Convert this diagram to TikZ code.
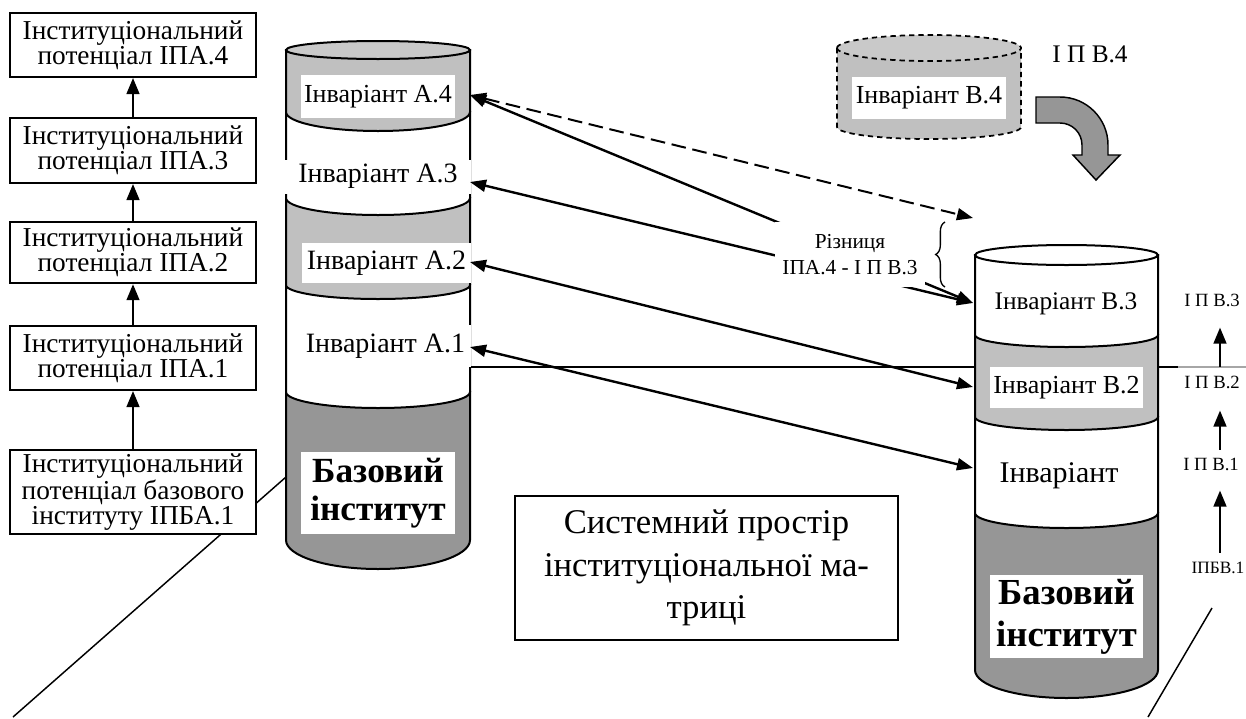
\documentclass[tikz,border=0pt]{standalone}
\usepackage{fontspec}
\setmainfont{Liberation Serif}
\usetikzlibrary{arrows.meta}
\usetikzlibrary{decorations.pathreplacing}
\definecolor{lgray}{RGB}{192,192,192}
\definecolor{dgray}{RGB}{150,150,150}

\begin{document}
\begin{tikzpicture}[x=0.75pt,y=0.75pt,yscale=-1,xscale=1,
  potbox/.style={draw,line width=1.5pt,fill=white,minimum width=185pt,inner sep=0pt,align=center,font=\fontsize{20.5}{17.5}\selectfont},
  invlbl/.style={fill=white,inner sep=0pt,font=\fontsize{21}{24}\selectfont},
  baselbl/.style={fill=white,inner sep=0pt,align=center},
  iplbl/.style={inner sep=0pt,anchor=base,font=\fontsize{14}{16}\selectfont},
  uparr/.style={line width=1.7pt,-{Triangle[length=12pt,width=9.5pt]}},
  dblarr/.style={line width=1.8pt,{Triangle[length=12pt,width=9pt]}-{Triangle[length=12pt,width=9pt]}},
  can/.style={line width=1.5pt}
]
\useasboundingbox (0,0) rectangle (1246,718);

%Straight Lines (left diagonal)
\draw [line width=1.1pt]  (286,477) -- (13,717) ;

%Left column: potentials
\node [potbox,minimum height=48pt] (ipa4) at (133,45) {Інституціональний\\потенціал ІПА.4};
\node [potbox,minimum height=48.75pt] (ipa3) at (133,150.5) {Інституціональний\\потенціал ІПА.3};
\node [potbox,minimum height=46pt] (ipa2) at (133,252.5) {Інституціональний\\потенціал ІПА.2};
\node [potbox,minimum height=48pt] (ipa1) at (133,358) {Інституціональний\\потенціал ІПА.1};
\node [potbox,minimum height=63pt] (ipba1) at (133,492) {Інституціональний\\потенціал базового\\інституту ІПБА.1};
\draw [uparr] (ipba1) -- (ipa1) ;
\draw [uparr] (ipa1) -- (ipa2) ;
\draw [uparr] (ipa2) -- (ipa3) ;
\draw [uparr] (ipa3) -- (ipa4) ;

%Straight Lines (horizontal)
\draw [line width=1pt]  (470,367) -- (1178,367) ;
\draw [line width=1pt,color=gray!70]  (1178,367) -- (1246,367) ;

%Shape: Can A (base)
\draw [can,fill=dgray] (286,392) -- (286,540) .. controls (286,556) and (327.2,569) .. (378,569) .. controls (428.8,569) and (470,556) .. (470,540) -- (470,392) -- cycle ;
%Shape: Can A.1
\draw [can,fill=white] (286,285) -- (286,392) .. controls (286,400.8) and (327.2,408) .. (378,408) .. controls (428.8,408) and (470,400.8) .. (470,392) -- (470,285) -- cycle ;
%Shape: Can A.2
\draw [can,fill=lgray] (286,198) -- (286,285) .. controls (286,292.7) and (327.2,299) .. (378,299) .. controls (428.8,299) and (470,292.7) .. (470,285) -- (470,198) -- cycle ;
%Shape: Can A.3
\draw [can,fill=white] (286,112) -- (286,198) .. controls (286,207.4) and (327.2,215) .. (378,215) .. controls (428.8,215) and (470,207.4) .. (470,198) -- (470,112) -- cycle ;
%Shape: Can A.4
\draw [can,fill=lgray] (286,50) -- (286,112) .. controls (286,122.5) and (327.2,131) .. (378,131) .. controls (428.8,131) and (470,122.5) .. (470,112) -- (470,50) -- cycle ;
\draw [can,fill=lgray!85] (286,50) .. controls (286,45) and (327.2,41) .. (378,41) .. controls (428.8,41) and (470,45) .. (470,50) .. controls (470,55) and (428.8,59) .. (378,59) .. controls (327.2,59) and (286,55) .. (286,50) -- cycle ;

\node [invlbl,font=\fontsize{19.5}{22}\selectfont,minimum width=115.5pt,minimum height=32pt] (a4lbl) at (378,96.5) {Інваріант А.4};
\node [invlbl,minimum width=139.5pt,minimum height=25.5pt] (a3lbl) at (378,176.5) {Інваріант А.3};
\node [invlbl,minimum width=126.75pt,minimum height=30pt] (a2lbl) at (386.5,263) {Інваріант А.2};
\node [invlbl,minimum width=128pt,minimum height=31.5pt] (a1lbl) at (385.5,346) {Інваріант А.1};
\node [baselbl,font=\bfseries\fontsize{26.5}{29}\selectfont,minimum width=115.5pt,minimum height=61.5pt] (abase) at (378,493) {Базовий\\інститут};

%Shape: Can B (base)
\draw [can,fill=dgray] (975,513) -- (975,670) .. controls (975,685.5) and (1016,698) .. (1066.5,698) .. controls (1117,698) and (1158,685.5) .. (1158,670) -- (1158,513) -- cycle ;
%Shape: Can B.1
\draw [can,fill=white] (975,417) -- (975,513) .. controls (975,521.3) and (1016,528) .. (1066.5,528) .. controls (1117,528) and (1158,521.3) .. (1158,513) -- (1158,417) -- cycle ;
%Shape: Can B.2
\draw [can,fill=lgray] (975,335) -- (975,417) .. controls (975,424.2) and (1016,430) .. (1066.5,430) .. controls (1117,430) and (1158,424.2) .. (1158,417) -- (1158,335) -- cycle ;
%Shape: Can B.3
\draw [can,fill=white] (975,255) -- (975,335) .. controls (975,341.6) and (1016,347) .. (1066.5,347) .. controls (1117,347) and (1158,341.6) .. (1158,335) -- (1158,255) -- cycle ;
\draw [can,fill=white] (975,255) .. controls (975,249.5) and (1016,245) .. (1066.5,245) .. controls (1117,245) and (1158,249.5) .. (1158,255) .. controls (1158,260.5) and (1117,265) .. (1066.5,265) .. controls (1016,265) and (975,260.5) .. (975,255) -- cycle ;

\node [inner sep=0pt,font=\fontsize{19}{22}\selectfont] (b3lbl) at (1066,304) {Інваріант В.3};
\node [invlbl,font=\fontsize{19.5}{22}\selectfont,minimum width=115pt,minimum height=31pt] (b2lbl) at (1066.5,387.5) {Інваріант В.2};
\node [inner sep=0pt,font=\fontsize{22.5}{26}\selectfont] (b1lbl) at (1059,476) {Інваріант};
\node [baselbl,font=\bfseries\fontsize{27.5}{31.5}\selectfont,minimum width=115pt,minimum height=62pt] (bbase) at (1066.5,616.5) {Базовий\\інститут};

%Shape: Can B.4 (dashed)
\draw [can,line width=1.3pt,dash pattern={on 4pt off 3pt},fill=lgray] (837,48) -- (837,127) .. controls (837,133.6) and (878.2,139) .. (929,139) .. controls (979.8,139) and (1021,133.6) .. (1021,127) -- (1021,48) -- cycle ;
\draw [can,line width=1.3pt,dash pattern={on 4pt off 3pt},fill=lgray!85] (837,48) .. controls (837,40.8) and (878.2,35) .. (929,35) .. controls (979.8,35) and (1021,40.8) .. (1021,48) .. controls (1021,55.2) and (979.8,61) .. (929,61) .. controls (878.2,61) and (837,55.2) .. (837,48) -- cycle ;
\node [invlbl,font=\fontsize{19.5}{22}\selectfont,minimum width=115.5pt,minimum height=31.5pt] (b4lbl) at (929,98) {Інваріант В.4};
\node [iplbl,font=\fontsize{19}{22}\selectfont] (ipv4) at (1090,62) {І П В.4};

%Shape: Curved Right Arrow
\draw [line width=1.1pt,fill=dgray] (1036,97) -- (1060,97) .. controls (1086.5,97) and (1108,118.5) .. (1108,145) -- (1108,155) -- (1120,155) -- (1096,180) -- (1073,155) -- (1082,155) -- (1082,145) .. controls (1082,132.8) and (1072.2,123) .. (1060,123) -- (1036,123) -- cycle ;

%Connectors between invariants
\coordinate (a4) at (470,95);
\coordinate (a3) at (470,182);
\coordinate (a2) at (470,262);
\coordinate (a1) at (470,347);
\coordinate (b4) at (973,218);
\coordinate (b3) at (973,303);
\coordinate (b2) at (973,387);
\coordinate (b1) at (973,468);
\draw [dblarr] (a4) -- (b3) ;
\draw [dblarr] (a3) -- (b3) ;
\draw [dblarr] (a2) -- (b2) ;
\draw [dblarr] (a1) -- (b1) ;
\draw [dblarr,line width=1.5pt,dash pattern={on 11pt off 5pt}] (a4) -- (b4) ;

\node [fill=white,inner sep=0pt,minimum width=112.5pt,minimum height=48.75pt,align=center,font=\fontsize{16}{19}\selectfont] (diff) at (850,254.5) {Різниця\\ІПА.4 - І П В.3};
\draw [line width=1pt,decorate,decoration={brace,amplitude=7pt}] (945,287) -- (945,222) ;

%Right column: potentials of B
\node [iplbl] (ipv3) at (1212,306) {І П В.3};
\node [iplbl] (ipv2) at (1212,388) {І П В.2};
\node [iplbl] (ipv1) at (1211,470) {І П В.1};
\node [iplbl,font=\fontsize{13}{15}\selectfont] (ipbv1) at (1218,573) {ІПБВ.1};
\draw [uparr] ([xshift=6pt,yshift=-6.5pt]ipv2.north) -- ([xshift=6pt,yshift=15.75pt]ipv3.south) ;
\draw [uparr] ([xshift=6.75pt,yshift=-5.7pt]ipv1.north) -- ([xshift=6pt,yshift=16.5pt]ipv2.south) ;
\draw [uparr] ([xshift=1.5pt,yshift=-6.4pt]ipbv1.north) -- ([xshift=6.75pt,yshift=15pt]ipv1.south) ;

%Straight Lines (right diagonal)
\draw [line width=1.1pt]  (1212,608) -- (1148,717) ;

%Text box: matrix space
\node [draw,line width=1.5pt,fill=white,minimum width=287pt,minimum height=108pt,align=center,font=\fontsize{26}{32}\selectfont] (space) at (706.5,568) {Системний простір\\інституціональної ма-\\триці};

\end{tikzpicture}
\end{document}
